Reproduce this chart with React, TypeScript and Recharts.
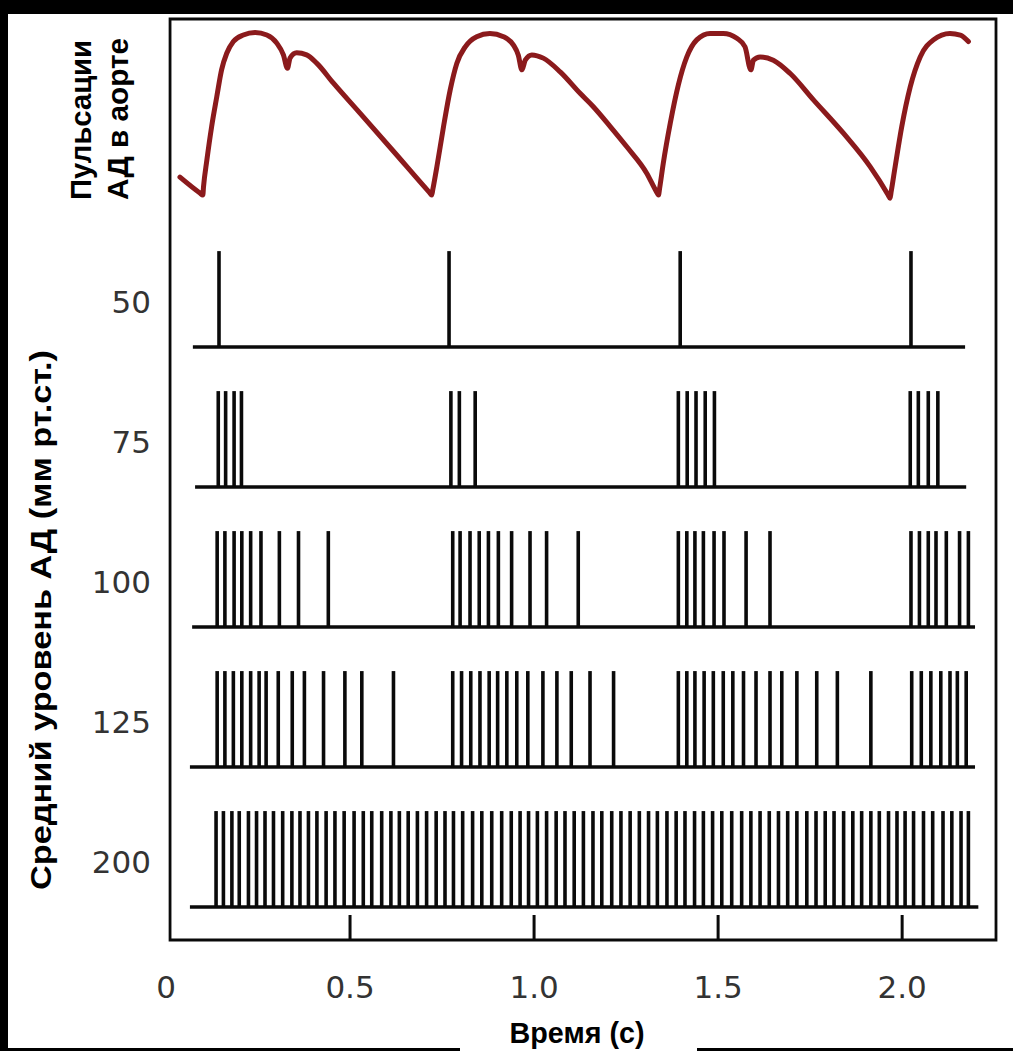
import React from 'react'
import { ComposedChart, Line, XAxis, YAxis, ReferenceLine, ReferenceArea } from 'recharts'

// aortic pressure trace (time in s, pressure in mm Hg)
const PRESSURE_T = [
  0.038, 0.092, 0.100, 0.102, 0.111, 0.124, 0.138, 0.151, 0.165, 0.183, 0.210, 0.242, 0.274, 0.301, 0.319, 0.330, 0.337, 0.355, 0.382, 0.410, 0.455, 0.527, 0.618, 0.716, 0.722, 0.725,
  0.736, 0.754, 0.772, 0.790, 0.813, 0.844, 0.880, 0.917, 0.944, 0.957, 0.967, 0.976, 0.994, 1.025, 1.071, 1.125, 1.161, 1.207, 1.252, 1.306, 1.332, 1.338, 1.341,
  1.351, 1.370, 1.392, 1.415, 1.442, 1.478, 1.514, 1.551, 1.573, 1.589, 1.596, 1.614, 1.650, 1.696, 1.759, 1.841, 1.913, 1.962, 1.967, 1.970,
  1.981, 1.999, 2.022, 2.049, 2.085, 2.130, 2.158, 2.180,
]
const PRESSURE_P = [
  84.4, 80.5, 80.0, 82.1, 88.6, 96.9, 104.3, 110.9, 115.0, 117.9, 119.5, 120.1, 119.5, 117.5, 114.6, 111.3, 113.8, 115.1, 114.6, 112.5, 107.6, 100.2, 90.8, 80.6, 80.0, 81.4,
  87.0, 96.9, 105.9, 112.5, 116.6, 119.1, 119.9, 119.1, 117.0, 114.6, 110.9, 113.3, 114.6, 113.8, 110.4, 105.1, 101.8, 96.9, 91.9, 85.4, 80.9, 80.0, 81.6,
  87.8, 97.7, 107.2, 114.1, 118.3, 119.9, 119.9, 118.7, 116.6, 110.9, 113.3, 114.1, 113.3, 110.0, 103.5, 95.2, 87.0, 80.0, 79.2, 80.7,
  87.0, 96.9, 106.7, 114.1, 118.3, 119.9, 119.5, 117.9,
]

// spike times (s) for each mean pressure level
const SPIKES_50 = [0.144, 0.769, 1.397, 2.024]
const SPIKES_75 = [0.142, 0.162, 0.185, 0.205, 0.774, 0.797, 0.840, 1.392, 1.416, 1.440, 1.465, 1.490, 2.022, 2.044, 2.071, 2.097]
const SPIKES_100 = [
  0.139, 0.160, 0.185, 0.206, 0.230, 0.258, 0.308, 0.360, 0.441,
  0.779, 0.799, 0.826, 0.851, 0.876, 0.903, 0.939, 0.989, 1.034, 1.120,
  1.392, 1.415, 1.437, 1.460, 1.489, 1.516, 1.576, 1.641,
  2.024, 2.047, 2.071, 2.092, 2.120, 2.156, 2.180,
]
const SPIKES_125 = [
  0.139, 0.160, 0.183, 0.206, 0.230, 0.253, 0.272, 0.305, 0.343, 0.376, 0.428, 0.486, 0.532, 0.618,
  0.779, 0.803, 0.828, 0.853, 0.878, 0.901, 0.926, 0.953, 0.983, 1.024, 1.062, 1.101, 1.152, 1.216,
  1.392, 1.415, 1.437, 1.462, 1.487, 1.514, 1.540, 1.569, 1.603, 1.641, 1.673, 1.714, 1.768, 1.824, 1.915,
  2.026, 2.052, 2.078, 2.105, 2.130, 2.150, 2.174,
]
const SPIKES_200 = [
  0.136, 0.156, 0.179, 0.199, 0.224, 0.246, 0.269, 0.292, 0.317, 0.342, 0.364, 0.387, 0.410, 0.435,
  0.459, 0.484, 0.511, 0.536, 0.559, 0.586, 0.611, 0.634, 0.658, 0.683, 0.708, 0.734, 0.758, 0.781,
  0.806, 0.833, 0.858, 0.885, 0.912, 0.938, 0.962, 0.985, 1.009, 1.034, 1.060, 1.084, 1.109, 1.134,
  1.160, 1.184, 1.211, 1.236, 1.261, 1.286, 1.311, 1.335, 1.361, 1.386, 1.410, 1.436, 1.460, 1.485,
  1.510, 1.537, 1.564, 1.589, 1.614, 1.639, 1.664, 1.689, 1.714, 1.741, 1.766, 1.791, 1.815, 1.841,
  1.866, 1.890, 1.915, 1.938, 1.963, 1.986, 2.008, 2.031, 2.058, 2.083, 2.111, 2.135, 2.160, 2.180,
]

const ROW_LABELS = ['50', '75', '100', '125', '200']
const ROW_SPIKES = [SPIKES_50, SPIKES_75, SPIKES_100, SPIKES_125, SPIKES_200]
// where each baseline starts / ends (s)
const ROW_BASE_START = [0.073, 0.079, 0.071, 0.065, 0.065]
const ROW_BASE_END = [2.171, 2.174, 2.198, 2.198, 2.207]

const X_TICKS = [0, 0.5, 1, 1.5, 2]
const X_TICK_LABELS = ['0', '0.5', '1.0', '1.5', '2.0']

const pressure = PRESSURE_T.map((t, i) => ({ t, p: PRESSURE_P[i] }))

const W = 1013
const H = 1051
const LANE_DOMAIN: [number, number] = [-0.236, 6.343]
const P_DOMAIN: [number, number] = [-103.95, 123.46]
const SPIKE_H = 0.685
const LABEL_MID = 0.32
const FRAME_X0 = 0.011
const X_MAX = 2.255

const INK = '#0a0a0a'
const NUM_FONT = '"DejaVu Sans", sans-serif'
const BOLD_FONT = '"Liberation Sans", Arial, sans-serif'

// lane index: 50 on top (4) down to 200 at the bottom (0)
const laneOf = (row: number) => ROW_LABELS.length - 1 - row

function TimeTick(props: any) {
  const { x, y, payload } = props
  const idx = X_TICKS.indexOf(payload.value)
  return (
    <g>
      {payload.value > 0 && <line x1={x} x2={x} y1={y - 25} y2={y} stroke={INK} strokeWidth={3} />}
      <text x={x} y={y + 58} textAnchor="middle" fontFamily={NUM_FONT} fontSize={31} fill="#333">
        {X_TICK_LABELS[idx] ?? payload.value}
      </text>
    </g>
  )
}

export default function App() {
  const laneTicks = ROW_LABELS.map((_, i) => laneOf(i) + LABEL_MID)

  return (
    <div style={{ position: 'absolute', left: 0, top: 0, width: W, height: H, background: '#fff', overflow: 'hidden' }}>
      <ComposedChart width={W} height={H} data={pressure} margin={{ top: 19, right: 17, bottom: 51, left: 0 }}>
        <XAxis
          dataKey="t" type="number" domain={[0, X_MAX]} allowDataOverflow
          ticks={X_TICKS} interval={0} height={60}
          axisLine={false} tickLine={false} tickSize={0} tickMargin={0}
          tick={<TimeTick />}
        />
        <YAxis
          yAxisId="lane" type="number" domain={LANE_DOMAIN} allowDataOverflow
          ticks={laneTicks} interval={0} width={166}
          axisLine={false} tickLine={false} tickSize={0} tickMargin={15}
          tick={{ fontFamily: NUM_FONT, fontSize: 31, fill: '#333' }}
          tickFormatter={(v: number) => ROW_LABELS[ROW_LABELS.length - 1 - Math.round(v - LABEL_MID)]}
        />
        <YAxis yAxisId="p" hide type="number" domain={P_DOMAIN} allowDataOverflow />

        <ReferenceArea
          yAxisId="lane" x1={FRAME_X0} x2={X_MAX} y1={LANE_DOMAIN[0]} y2={LANE_DOMAIN[1]}
          fill="none" fillOpacity={0} stroke={INK} strokeWidth={2.8} ifOverflow="visible"
        />

        {ROW_LABELS.map((lab, i) => (
          <ReferenceLine
            key={'b' + lab} yAxisId="lane" ifOverflow="visible"
            segment={[{ x: ROW_BASE_START[i], y: laneOf(i) }, { x: ROW_BASE_END[i], y: laneOf(i) }]}
            stroke={INK} strokeWidth={3.5}
          />
        ))}

        {ROW_SPIKES.map((spikes, i) =>
          spikes.map((t, j) => (
            <ReferenceLine
              key={ROW_LABELS[i] + '-' + j} yAxisId="lane" ifOverflow="visible"
              segment={[{ x: t, y: laneOf(i) }, { x: t, y: laneOf(i) + SPIKE_H }]}
              stroke={INK} strokeWidth={3.6}
            />
          ))
        )}

        <Line
          yAxisId="p" dataKey="p" type="monotone"
          stroke="#8b1a1c" strokeWidth={5} strokeLinejoin="round" strokeLinecap="round"
          dot={false} activeDot={false} isAnimationActive={false}
        />
      </ComposedChart>

      {/* axis titles and the scan's dark edges */}
      <svg width={W} height={H} style={{ position: 'absolute', left: 0, top: 0, pointerEvents: 'none' }}>
        <rect x={0} y={0} width={W} height={14} fill="#000" />
        <rect x={0} y={0} width={8} height={H} fill="#000" />
        <rect x={0} y={H - 3} width={460} height={3} fill="#000" />
        <rect x={697} y={H - 3} width={W - 697} height={3} fill="#000" />
        <g fontFamily={BOLD_FONT} fontWeight="bold" fontSize={29} fill="#000">
          <text x={91} y={200} transform="rotate(-90 91 200)" textLength={160} lengthAdjust="spacingAndGlyphs">Пульсации</text>
          <text x={128} y={200} transform="rotate(-90 128 200)" textLength={162} lengthAdjust="spacingAndGlyphs">АД в аорте</text>
          <text x={51} y={620} textAnchor="middle" transform="rotate(-90 51 620)" textLength={540} lengthAdjust="spacingAndGlyphs">Средний уровень АД (мм рт.ст.)</text>
          <text x={577} y={1043} textAnchor="middle" textLength={135} lengthAdjust="spacingAndGlyphs">Время (с)</text>
        </g>
      </svg>
    </div>
  )
}
